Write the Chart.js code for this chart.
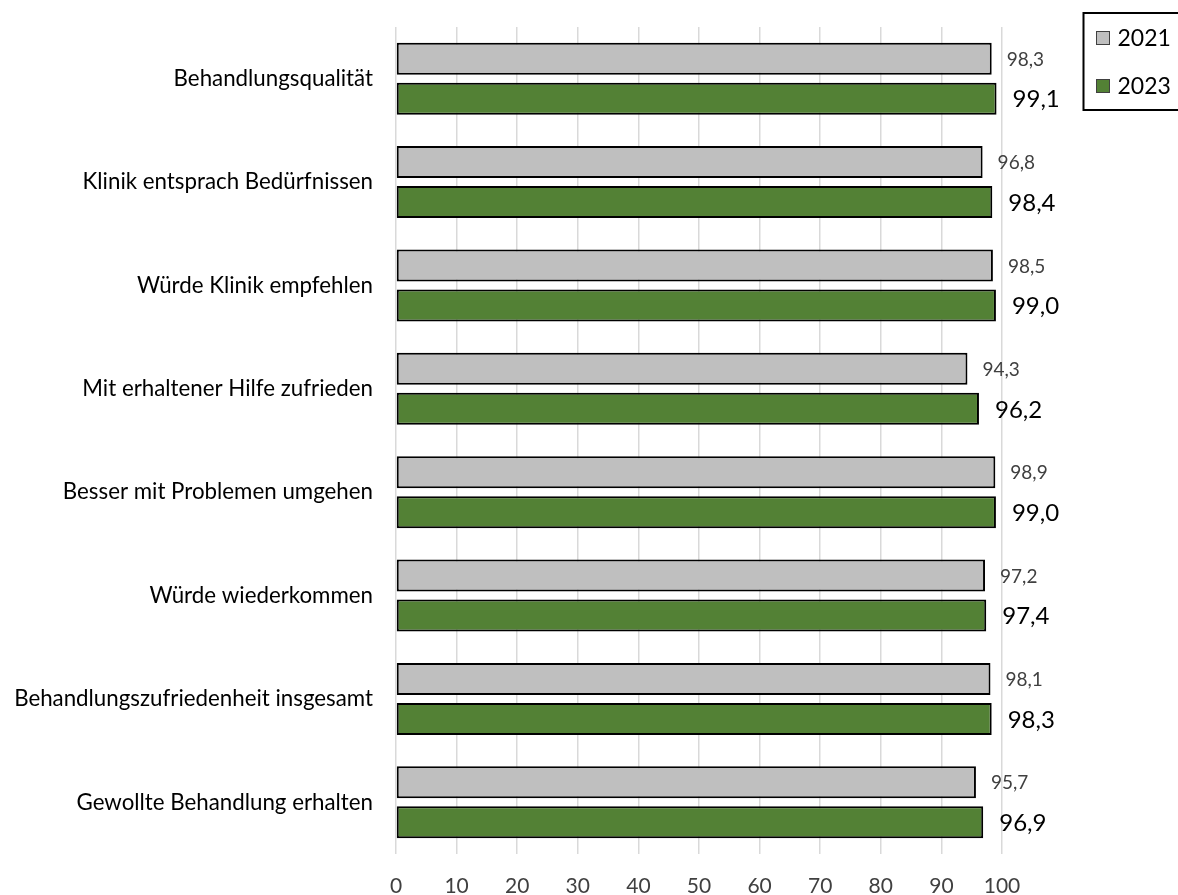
<!DOCTYPE html>
<html lang="de">
<head>
<meta charset="utf-8">
<title>Behandlungszufriedenheit 2021 / 2023</title>
<script src="https://cdn.jsdelivr.net/npm/chart.js@4.4.1/dist/chart.umd.min.js"></script>
<style>
  html, body { margin: 0; padding: 0; background: #fff; }
  #wrap { position: relative; width: 1178px; height: 895px; }
</style>
</head>
<body>
<div id="wrap"><canvas id="chart" width="1178" height="895"></canvas></div>
<script>
// Survey items (top to bottom)
const categories = [
  'Behandlungsqualität',
  'Klinik entsprach Bedürfnissen',
  'Würde Klinik empfehlen',
  'Mit erhaltener Hilfe zufrieden',
  'Besser mit Problemen umgehen',
  'Würde wiederkommen',
  'Behandlungszufriedenheit insgesamt',
  'Gewollte Behandlung erhalten'
];

// Share of agreement in percent
const values2021 = [98.3, 96.8, 98.5, 94.3, 98.9, 97.2, 98.1, 95.7];
const values2023 = [99.1, 98.4, 99.0, 96.2, 99.0, 97.4, 98.3, 96.9];

const seriesLabels = ['2021', '2023'];
const xTicks = [0, 10, 20, 30, 40, 50, 60, 70, 80, 90, 100];

const FONT = 'Lato, "DejaVu Sans", sans-serif';
const GRAY = '#BFBFBF';
const GREEN = '#538135';

const fmt = v => v.toFixed(1).replace('.', ',');

// Value labels right of every bar; 2021 smaller and grey, 2023 larger and black
const valueLabels = {
  id: 'valueLabels',
  afterDatasetsDraw(chart) {
    const ctx = chart.ctx;
    const styles = [
      { size: 19, color: '#404040', gap: 15 },
      { size: 24, color: '#000000', gap: 16 }
    ];
    chart.data.datasets.forEach((ds, di) => {
      const meta = chart.getDatasetMeta(di);
      const st = styles[di];
      ctx.save();
      ctx.font = st.size + 'px ' + FONT;
      ctx.fillStyle = st.color;
      ctx.textAlign = 'left';
      ctx.textBaseline = 'middle';
      meta.data.forEach((bar, i) => {
        ctx.fillText(fmt(ds.data[i]), bar.x + st.gap, bar.y + 1);
      });
      ctx.restore();
    });
  }
};

// Framed legend in the upper right corner
const boxLegend = {
  id: 'boxLegend',
  afterDraw(chart) {
    const ctx = chart.ctx;
    ctx.save();
    ctx.lineWidth = 2;
    ctx.strokeStyle = '#000';
    ctx.strokeRect(1083.5, 13, 110, 97);
    ctx.font = '23px ' + FONT;
    ctx.textBaseline = 'middle';
    ctx.textAlign = 'left';
    const rows = [38, 86];
    chart.data.datasets.forEach((ds, i) => {
      const y = rows[i];
      ctx.fillStyle = ds.backgroundColor;
      ctx.fillRect(1096.5, y - 6.5, 13, 13);
      ctx.lineWidth = 1;
      ctx.strokeStyle = '#404040';
      ctx.strokeRect(1096.5, y - 6.5, 13, 13);
      ctx.fillStyle = '#000';
      ctx.fillText(ds.label, 1117.5, y + 1);
    });
    ctx.restore();
  }
};

new Chart(document.getElementById('chart'), {
  type: 'bar',
  data: {
    labels: categories,
    datasets: [
      {
        label: seriesLabels[0],
        data: values2021,
        backgroundColor: GRAY,
        borderColor: '#000',
        borderWidth: 2,
        borderSkipped: false,
        categoryPercentage: 0.775,
        barPercentage: 0.8
      },
      {
        label: seriesLabels[1],
        data: values2023,
        backgroundColor: GREEN,
        borderColor: '#000',
        borderWidth: 2,
        borderSkipped: false,
        categoryPercentage: 0.775,
        barPercentage: 0.8
      }
    ]
  },
  options: {
    indexAxis: 'y',
    responsive: false,
    animation: false,
    devicePixelRatio: 1,
    layout: { padding: { top: 27, right: 176, bottom: 0, left: 0 } },
    plugins: {
      legend: { display: false },
      tooltip: { enabled: false }
    },
    scales: {
      x: {
        min: 0,
        max: 100,
        afterBuildTicks(scale) {
          scale.ticks = xTicks.map(v => ({ value: v }));
        },
        afterFit(scale) { scale.height = 41; },
        grid: { color: '#D9D9D9', lineWidth: 1.5, drawTicks: false },
        border: { display: false },
        ticks: {
          padding: 20,
          color: '#404040',
          font: { family: FONT, size: 21 },
          maxRotation: 0
        }
      },
      y: {
        afterFit(scale) {
          scale.width = 396;
          // category labels sit centred in their bands; no extra vertical room needed
          scale.paddingTop = 0;
          scale.paddingBottom = 0;
        },
        grid: { display: false, drawTicks: false },
        border: { display: false },
        ticks: {
          padding: 23,
          color: '#000',
          font: { family: FONT, size: 22.3 }
        }
      }
    }
  },
  plugins: [valueLabels, boxLegend]
});
</script>
</body>
</html>
